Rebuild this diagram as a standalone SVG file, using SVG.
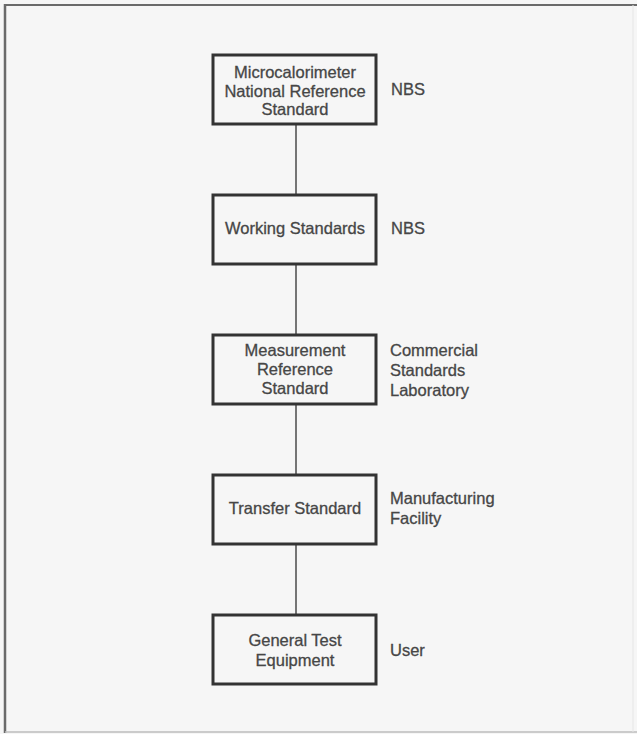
<svg xmlns="http://www.w3.org/2000/svg" width="637" height="734" viewBox="0 0 637 734">
  <style>
    .box { fill: none; stroke: #333333; stroke-width: 3; }
    .lbl { font-family: "Liberation Sans", Arial, sans-serif; font-size: 16.5px; fill: #464646; stroke: #464646; stroke-width: 0.3; }
    .c { text-anchor: middle; }
    .conn { stroke: #555555; stroke-width: 1.6; fill: none; }
  </style>
  <rect x="0" y="0" width="637" height="734" fill="#f6f6f6"/>
  <g id="frame">
    <line x1="5" y1="5" x2="637" y2="5" stroke="#6a6a6a" stroke-width="2"/>
    <line x1="5" y1="4" x2="5" y2="733" stroke="#6a6a6a" stroke-width="2.5"/>
    <line x1="5" y1="732" x2="637" y2="732" stroke="#bdbdbd" stroke-width="1.5"/>
    <line x1="633" y1="5" x2="633" y2="732" stroke="#e6e6e6" stroke-width="1"/>
  </g>
  <g id="connectors">
    <line class="conn" x1="296" y1="124" x2="296" y2="195"/>
    <line class="conn" x1="296" y1="264" x2="296" y2="335"/>
    <line class="conn" x1="296" y1="404" x2="296" y2="475"/>
    <line class="conn" x1="296" y1="544" x2="296" y2="615"/>
  </g>
  <g id="node-microcalorimeter">
    <rect class="box" x="213" y="55" width="163" height="69"/>
    <text class="lbl c" x="295" y="78">Microcalorimeter</text>
    <text class="lbl c" x="295" y="96.5">National Reference</text>
    <text class="lbl c" x="295" y="115">Standard</text>
    <text class="lbl" x="391" y="95">NBS</text>
  </g>
  <g id="node-working">
    <rect class="box" x="213" y="195" width="163" height="69"/>
    <text class="lbl c" x="295" y="234">Working Standards</text>
    <text class="lbl" x="391" y="234">NBS</text>
  </g>
  <g id="node-measurement">
    <rect class="box" x="213" y="335" width="163" height="69"/>
    <text class="lbl c" x="295" y="356">Measurement</text>
    <text class="lbl c" x="295" y="375">Reference</text>
    <text class="lbl c" x="295" y="394">Standard</text>
    <text class="lbl" x="390" y="356">Commercial</text>
    <text class="lbl" x="390" y="376">Standards</text>
    <text class="lbl" x="390" y="396">Laboratory</text>
  </g>
  <g id="node-transfer">
    <rect class="box" x="213" y="475" width="163" height="69"/>
    <text class="lbl c" x="295" y="514">Transfer Standard</text>
    <text class="lbl" x="390" y="504">Manufacturing</text>
    <text class="lbl" x="390" y="524">Facility</text>
  </g>
  <g id="node-general">
    <rect class="box" x="213" y="615" width="163" height="69"/>
    <text class="lbl c" x="295" y="646">General Test</text>
    <text class="lbl c" x="295" y="666">Equipment</text>
    <text class="lbl" x="390" y="656">User</text>
  </g>
</svg>
